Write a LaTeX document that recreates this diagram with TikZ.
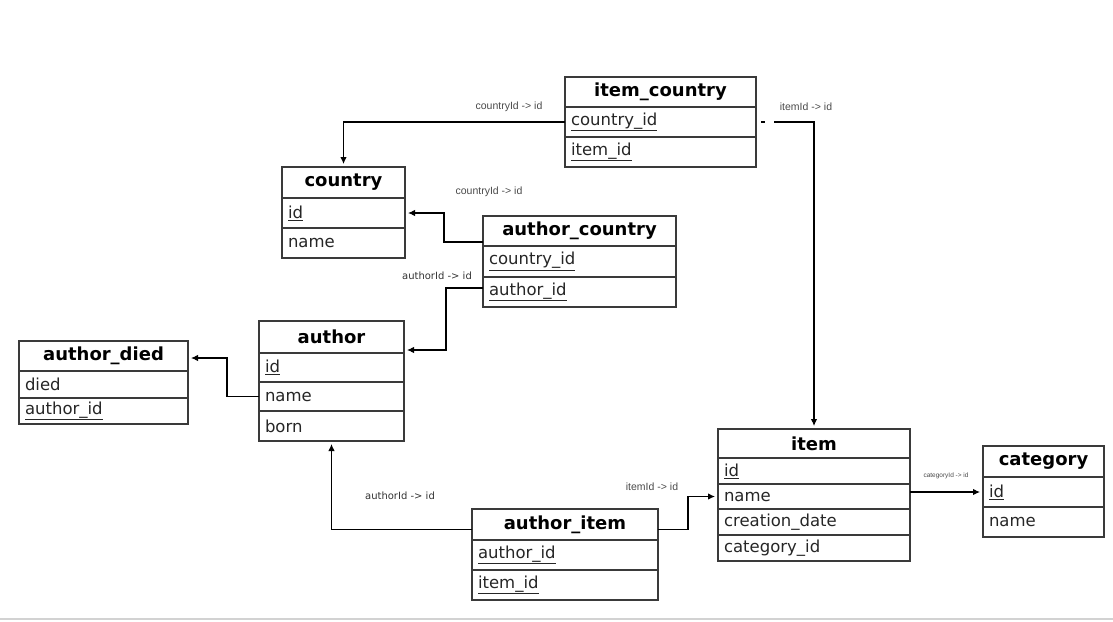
\documentclass[tikz,border=0pt]{standalone}
\usepackage{fontspec}
\setmainfont{DejaVu Sans}
\newfontfamily\lblfamily{Liberation Sans}
\usetikzlibrary{arrows.meta,positioning}
\definecolor{boxc}{HTML}{3A3A3A}
\definecolor{lblc}{HTML}{4A4A4A}
\newcommand{\hdrsize}{\fontsize{18}{21}\selectfont\bfseries}
\newcommand{\fldsize}{\fontsize{16.5}{19}\selectfont}

\begin{document}
\begin{tikzpicture}[x=1pt,y=-1pt,
  hdr/.style={draw=boxc, line width=1.4pt, inner sep=0pt, outer sep=0pt, font=\hdrsize, anchor=north},
  fld/.style={draw=boxc, line width=1.4pt, inner xsep=6pt, inner ysep=0pt, outer sep=0pt, align=left, font=\fldsize, text=black!85},
  conn/.style={line width=1.1pt, -{Latex[length=7pt,width=6.5pt]}, shorten >=3pt},
  lbl/.style={font=\lblfamily\fontsize{10.5}{12}\selectfont, text=lblc, inner sep=0pt},
  lbldk/.style={font=\fontsize{10}{12}\selectfont, text=black!80, inner sep=0pt}]

\useasboundingbox (0,0) rectangle (1113,621);

% item_country
\node[hdr, minimum width=191pt, minimum height=30pt] (ic) at (660.5,77) {item\_country};
\node[fld, text width=179pt, minimum height=30pt, below=0pt of ic] (ic-cid) {\underline{country\_id}};
\node[fld, text width=179pt, minimum height=30pt, below=0pt of ic-cid] (ic-iid) {\underline{item\_id}};

% country
\node[hdr, minimum width=123pt, minimum height=31pt] (c) at (343.5,167) {country};
\node[fld, text width=111pt, minimum height=30pt, below=0pt of c] (c-id) {\underline{id}};
\node[fld, text width=111pt, minimum height=30pt, below=0pt of c-id] (c-name) {name};

% author_country
\node[hdr, minimum width=193pt, minimum height=30pt] (ac) at (579.5,216) {author\_country};
\node[fld, text width=181pt, minimum height=31pt, below=0pt of ac] (ac-cid) {\underline{country\_id}};
\node[fld, text width=181pt, minimum height=30pt, below=0pt of ac-cid] (ac-aid) {\underline{author\_id}};

% author
\node[hdr, minimum width=145pt, minimum height=32pt] (au) at (331.5,321) {author};
\node[fld, text width=133pt, minimum height=29pt, below=0pt of au] (au-id) {\underline{id}};
\node[fld, text width=133pt, minimum height=29pt, below=0pt of au-id] (au-name) {name};
\node[fld, text width=133pt, minimum height=30pt, below=0pt of au-name] (au-born) {born};

% author_died
\node[hdr, minimum width=169pt, minimum height=30pt] (ad) at (103.5,341) {author\_died};
\node[fld, text width=157pt, minimum height=27pt, below=0pt of ad] (ad-died) {died};
\node[fld, text width=157pt, minimum height=26pt, below=0pt of ad-died] (ad-aid) {\underline{author\_id}};

% item
\node[hdr, minimum width=192pt, minimum height=29pt] (it) at (814,429) {item};
\node[fld, text width=180pt, minimum height=26pt, below=0pt of it] (it-id) {\underline{id}};
\node[fld, text width=180pt, minimum height=25pt, below=0pt of it-id] (it-name) {name};
\node[fld, text width=180pt, minimum height=26pt, below=0pt of it-name] (it-date) {creation\_date};
\node[fld, text width=180pt, minimum height=26pt, below=0pt of it-date] (it-cat) {category\_id};

% category
\node[hdr, minimum width=121pt, minimum height=31pt] (cat) at (1043.5,446) {category};
\node[fld, text width=109pt, minimum height=30pt, below=0pt of cat] (cat-id) {\underline{id}};
\node[fld, text width=109pt, minimum height=30pt, below=0pt of cat-id] (cat-name) {name};

% author_item
\node[hdr, minimum width=186pt, minimum height=31pt] (ai) at (565,509) {author\_item};
\node[fld, text width=174pt, minimum height=30pt, below=0pt of ai] (ai-aid) {\underline{author\_id}};
\node[fld, text width=174pt, minimum height=30pt, below=0pt of ai-aid] (ai-iid) {\underline{item\_id}};

% links
\draw[conn] (ic-cid.west) -| (c.north);
\draw[conn, dash pattern=on 0pt off 5pt on 4pt off 9pt on 1000pt] (ic-cid.east) -| (it.north);
\draw[conn] ([yshift=-11pt]ac.west) -- ++(-39,0) |- (c-id.east);
\draw[conn] ([yshift=4pt]ac-aid.west) -- ++(-37,0) |- ([yshift=-13pt]au.east);
\draw[conn] (au-name.west) -- ++(-32,0) |- ([yshift=-2pt]ad.east);
\draw[conn] ([yshift=-5pt]ai.west) -| (au-born.south);
\draw[conn] ([yshift=-5pt]ai.east) -- ++(30,0) |- (it-name.west);
\draw[conn] (cat-id.west -| it.east) -- (cat-id.west);

\node[lbl] (l-ic-c) at (509,107) {countryId -> id};
\node[lbl] (l-ic-i) at (806,107) {itemId -> id};
\node[lbl] (l-ac-c) at (489,192) {countryId -> id};
\node[lbldk] (l-ac-a) at (437,276) {authorId -> id};
\node[lbldk] (l-ai-a) at (400,496) {authorId -> id};
\node[lbl] (l-ai-i) at (652,487) {itemId -> id};
\node[lbl, font=\lblfamily\fontsize{6.5}{8}\selectfont] (l-it-c) at (946,476) {categoryId -> id};

\draw[gray!35, line width=2pt] (0,619) -- (1113,619);

\end{tikzpicture}
\end{document}
